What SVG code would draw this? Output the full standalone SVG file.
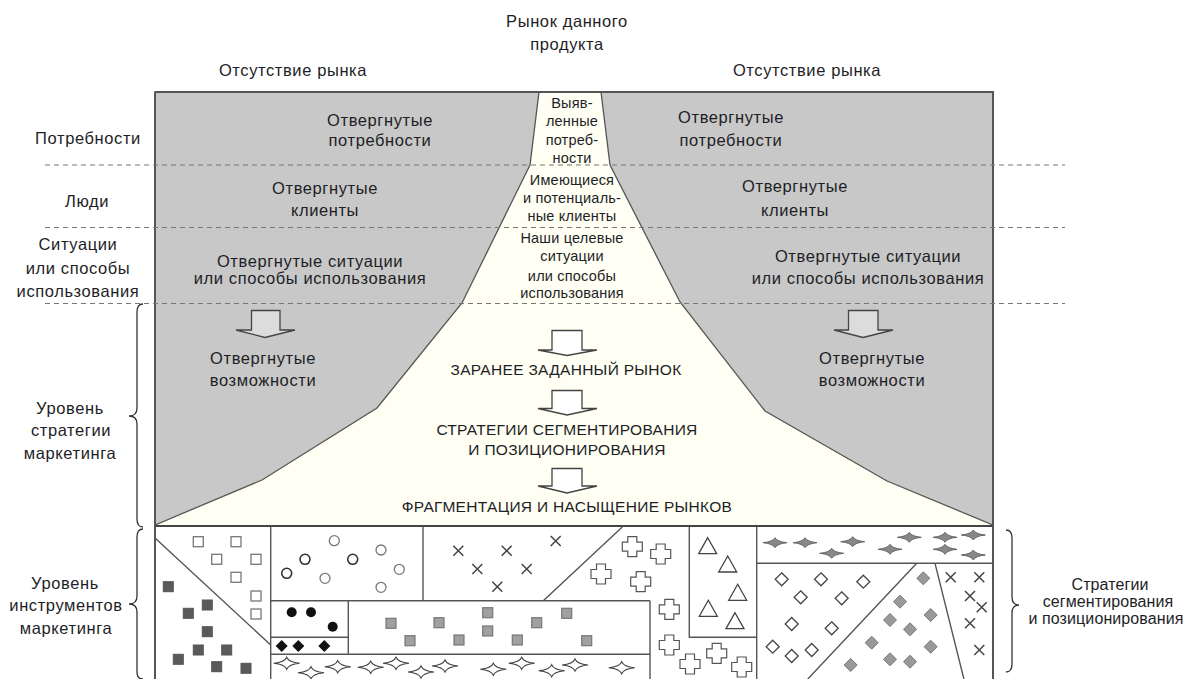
<svg xmlns="http://www.w3.org/2000/svg" xmlns:xlink="http://www.w3.org/1999/xlink" width="1190" height="679" viewBox="0 0 1190 679">
<style>
text{font-family:"Liberation Sans",Arial,sans-serif;fill:#1e1e26;text-anchor:middle}
.lb{font-size:16.5px;letter-spacing:0.6px}
.rl{font-size:16px;letter-spacing:0.1px}
.sm{font-size:14.5px;letter-spacing:0.2px}
.cp{font-size:15.5px;letter-spacing:0.3px}
.dash{stroke:#777;stroke-width:1.2;stroke-dasharray:5,4;fill:none}
.gray{fill:#c8c8c8;stroke:#555;stroke-width:1.3}
.brace{stroke:#333;stroke-width:1.3;fill:none}
.arw{stroke:#444;stroke-width:1.3}
.ln{stroke:#555;stroke-width:1.4;fill:none}
</style>
<defs>
<rect id="osq" x="-5" y="-5" width="10" height="10" fill="#fff" stroke="#777" stroke-width="1.3"/>
<rect id="dsq" x="-5" y="-5" width="10" height="10" fill="#5a5a5a" stroke="#555" stroke-width="1"/>
<rect id="gsq" x="-5" y="-5" width="10" height="10" fill="#a0a0a0" stroke="#777" stroke-width="1.2"/>
<circle id="oc1" r="5" fill="#fff" stroke="#333" stroke-width="1.6"/>
<circle id="oc2" r="5" fill="#fff" stroke="#777" stroke-width="1.3"/>
<circle id="bc" r="5" fill="#111"/>
<path id="bd" d="M0,-6 L6,0 L0,6 L-6,0 Z" fill="#111"/>
<path id="xx" d="M-5,-5 L5,5 M5,-5 L-5,5" stroke="#444" stroke-width="1.5" fill="none"/>
<path id="pl" d="M-4.5,-10 H4.5 V-4.5 H10 V4.5 H4.5 V10 H-4.5 V4.5 H-10 V-4.5 H-4.5 Z" fill="#fff" stroke="#555" stroke-width="1.2"/>
<path id="tr" d="M0,-9 L9,7 L-9,7 Z" fill="#fff" stroke="#444" stroke-width="1.3"/>
<path id="od" d="M0,-6.5 L6.5,0 L0,6.5 L-6.5,0 Z" fill="#fff" stroke="#444" stroke-width="1.3"/>
<path id="gd" d="M0,-6.5 L6.5,0 L0,6.5 L-6.5,0 Z" fill="#999" stroke="#777" stroke-width="1"/>
<path id="ws" d="M-13,0 Q-2,-1 0,-6 Q2,-1 13,0 Q2,1 0,6 Q-2,1 -13,0 Z" fill="#fff" stroke="#444" stroke-width="1.1"/>
<path id="gs" d="M-12,0 Q-2,-1 0,-5 Q2,-1 12,0 Q2,1 0,5 Q-2,1 -12,0 Z" fill="#888" stroke="#666" stroke-width="1"/>
</defs>

<rect width="1190" height="679" fill="#fff"/>

<g id="strategy-area">
<rect x="155" y="92" width="838" height="434" fill="#fffff4"/>
<path class="gray" d="M155,92 H539 L530,165 L462,303 L377,408 L262,480 L155,525 Z"/>
<path class="gray" d="M601,92 H993 V525 L887,481 L765,411 L680,302 L610,165 Z"/>
<path d="M155,92 H993 V679 M155,92 V679" stroke="#555" stroke-width="2" fill="none"/>
</g>

<g id="dashed-levels">
<line class="dash" x1="45" y1="165" x2="1065" y2="165"/>
<line class="dash" x1="45" y1="227.5" x2="1065" y2="227.5"/>
<line class="dash" x1="45" y1="303.5" x2="1065" y2="303.5"/>
</g>

<g id="top-labels">
<text class="lb" x="567" y="27">Рынок данного</text>
<text class="lb" x="567" y="50">продукта</text>
<text class="lb" x="293" y="76">Отсутствие рынка</text>
<text class="lb" x="807" y="76">Отсутствие рынка</text>
</g>

<g id="left-labels">
<text class="lb" x="88" y="144">Потребности</text>
<text class="lb" x="87" y="207">Люди</text>
<text class="lb" x="78" y="250">Ситуации</text>
<text class="lb" x="78" y="274">или способы</text>
<text class="lb" x="78" y="297">использования</text>
<text class="lb" x="70" y="414">Уровень</text>
<text class="lb" x="71" y="436">стратегии</text>
<text class="lb" x="70" y="459">маркетинга</text>
<text class="lb" x="65" y="589">Уровень</text>
<text class="lb" x="66" y="611">инструментов</text>
<text class="lb" x="66" y="634">маркетинга</text>
</g>

<g id="braces">
<path class="brace" d="M143,304 Q137,304 137,312 L137,408 Q137,416 129,416 Q137,416 137,424 L137,519 Q137,527 143,527"/>
<path class="brace" d="M143,529 Q137,529 137,537 L137,596 Q137,604 129,604 Q137,604 137,612 L137,672 Q137,679 143,679"/>
<path class="brace" d="M1006,530 Q1012,530 1012,538 L1012,597 Q1012,605 1019,605 Q1012,605 1012,613 L1012,664 Q1012,672 1006,672"/>
</g>

<g id="rejected-labels">
<text class="lb" x="380" y="126">Отвергнутые</text>
<text class="lb" x="380" y="146">потребности</text>
<text class="lb" x="731" y="123">Отвергнутые</text>
<text class="lb" x="731" y="146">потребности</text>
<text class="lb" x="325" y="194">Отвергнутые</text>
<text class="lb" x="325" y="216">клиенты</text>
<text class="lb" x="795" y="192">Отвергнутые</text>
<text class="lb" x="795" y="216">клиенты</text>
<text class="lb" x="310" y="267">Отвергнутые ситуации</text>
<text class="lb" x="310" y="284">или способы использования</text>
<text class="lb" x="868" y="262">Отвергнутые ситуации</text>
<text class="lb" x="868" y="284">или способы использования</text>
<text class="lb" x="263" y="364">Отвергнутые</text>
<text class="lb" x="263" y="386">возможности</text>
<text class="lb" x="872" y="364">Отвергнутые</text>
<text class="lb" x="872" y="386">возможности</text>
</g>

<g id="funnel-labels">
<text class="sm" x="572" y="108">Выяв-</text>
<text class="sm" x="572" y="126">ленные</text>
<text class="sm" x="572" y="145">потреб-</text>
<text class="sm" x="572" y="163">ности</text>
<text class="sm" x="572" y="185">Имеющиеся</text>
<text class="sm" x="572" y="203">и потенциаль-</text>
<text class="sm" x="572" y="221">ные клиенты</text>
<text class="sm" x="572" y="243">Наши целевые</text>
<text class="sm" x="572" y="261">ситуации</text>
<text class="sm" x="572" y="281">или способы</text>
<text class="sm" x="572" y="298">использования</text>
<text class="cp" x="566" y="375">ЗАРАНЕЕ ЗАДАННЫЙ РЫНОК</text>
<text class="cp" x="567" y="435">СТРАТЕГИИ СЕГМЕНТИРОВАНИЯ</text>
<text class="cp" x="567" y="455">И ПОЗИЦИОНИРОВАНИЯ</text>
<text class="cp" x="567" y="512">ФРАГМЕНТАЦИЯ И НАСЫЩЕНИЕ РЫНКОВ</text>
</g>

<g id="connectors">
<path class="arw" fill="#dcdcdc" d="M251.5,310.5 H280 V330 H295 L265,337.5 L236,330 H251.5 Z"/>
<path class="arw" fill="#dcdcdc" d="M848.5,310.5 H878 V330 H893 L863,337.5 L834,330 H848.5 Z"/>
<path class="arw" fill="#fff" d="M552,330.5 H582 V350 H597 L567,355.5 L538,350 H552 Z"/>
<path class="arw" fill="#fff" d="M552,390.5 H582 V408.5 H597 L567,415 L538,408.5 H552 Z"/>
<path class="arw" fill="#fff" d="M552,468.5 H582 V486 H597 L567,493 L538,486 H552 Z"/>
</g>

<g id="instruments-area">
<rect x="155" y="526" width="838" height="160" fill="#fff"/>
<path d="M155,526 H993" stroke="#444" stroke-width="2"/>
<path class="ln" d="M155,538 L270.7,645 M270.7,526 V679 M423,526 V600.7 M270.7,600.7 H650 M348.3,600.7 V654.3 M270.7,637.3 H348.3 M270.7,654.3 H650 M650,600.7 V679 M622.3,527 L543.3,600.7 M689.3,527 V637.3 H756.7 M756.7,527 V679 M756.7,563.3 H993 M916.7,563.3 L807.8,679 M935,563.3 L963.9,679"/>
<path d="M155,526 V679 M993,526 V679" stroke="#555" stroke-width="2"/>
</g>

<g id="instrument-symbols">
<use href="#osq" x="198.3" y="541.7"/><use href="#osq" x="236" y="541.7"/><use href="#osq" x="216.7" y="559.3"/><use href="#osq" x="256" y="559.3"/><use href="#osq" x="236" y="577.3"/><use href="#osq" x="256" y="596"/><use href="#osq" x="256" y="614"/>
<use href="#dsq" x="168.3" y="586.7"/><use href="#dsq" x="207.3" y="605"/><use href="#dsq" x="188.3" y="613.3"/><use href="#dsq" x="207.3" y="631.7"/><use href="#dsq" x="198.3" y="650"/><use href="#dsq" x="226.7" y="650"/><use href="#dsq" x="178.3" y="659.3"/><use href="#dsq" x="216.7" y="666.7"/><use href="#dsq" x="246" y="668.3"/>
<use href="#oc2" x="334.3" y="540.7"/><use href="#oc1" x="305" y="559.3"/><use href="#oc1" x="352.7" y="559.3"/><use href="#oc2" x="381" y="550"/><use href="#oc1" x="286.7" y="573.3"/><use href="#oc2" x="325" y="578.3"/><use href="#oc2" x="399.3" y="569.3"/><use href="#oc2" x="381" y="587.3"/>
<use href="#bc" x="291.7" y="612.3"/><use href="#bc" x="311" y="612.3"/><use href="#bc" x="332.7" y="626.7"/>
<use href="#bd" x="281.7" y="646"/><use href="#bd" x="298.3" y="646"/><use href="#bd" x="324.3" y="646"/>
<use href="#gsq" x="391" y="623.3"/><use href="#gsq" x="410" y="640.7"/><use href="#gsq" x="439" y="622.7"/><use href="#gsq" x="487.7" y="612.7"/><use href="#gsq" x="487.7" y="631"/><use href="#gsq" x="459" y="640"/><use href="#gsq" x="517.3" y="640"/><use href="#gsq" x="536.7" y="622.7"/><use href="#gsq" x="566.7" y="613.3"/><use href="#gsq" x="586.7" y="640.7"/>
<use href="#xx" x="458.3" y="550.7"/><use href="#xx" x="506.7" y="550.7"/><use href="#xx" x="555.7" y="541"/><use href="#xx" x="477.3" y="569"/><use href="#xx" x="526.7" y="569"/><use href="#xx" x="497.3" y="586.7"/>
<use href="#pl" x="632.3" y="546.7"/><use href="#pl" x="660.7" y="554"/><use href="#pl" x="601" y="574"/><use href="#pl" x="640.7" y="581.7"/><use href="#pl" x="669.3" y="609.3"/><use href="#pl" x="669.3" y="645"/><use href="#pl" x="690" y="664"/><use href="#pl" x="716.7" y="653.3"/><use href="#pl" x="741.7" y="667"/>
<use href="#tr" x="707.7" y="546.7"/><use href="#tr" x="727.7" y="565"/><use href="#tr" x="737.7" y="593.3"/><use href="#tr" x="708.3" y="609.3"/><use href="#tr" x="735" y="621.7"/>
<use href="#gs" x="775" y="542.7"/><use href="#gs" x="805" y="542.7"/><use href="#gs" x="831.7" y="553.3"/><use href="#gs" x="852.7" y="541.7"/><use href="#gs" x="890" y="549.3"/><use href="#gs" x="909.3" y="537.3"/><use href="#gs" x="945" y="537.3"/><use href="#gs" x="973.3" y="535"/><use href="#gs" x="945" y="549.3"/><use href="#gs" x="973.3" y="555"/>
<use href="#od" x="781.7" y="579.3"/><use href="#od" x="821" y="579.3"/><use href="#od" x="863.3" y="581.7"/><use href="#od" x="800.7" y="597.3"/><use href="#od" x="841.7" y="598.3"/><use href="#od" x="791.7" y="624"/><use href="#od" x="831.7" y="628.3"/><use href="#od" x="772.7" y="646.7"/><use href="#od" x="791.7" y="656"/><use href="#od" x="811.7" y="650"/>
<use href="#gd" x="923.3" y="578.3"/><use href="#gd" x="900" y="601.7"/><use href="#gd" x="890" y="620"/><use href="#gd" x="910" y="629.3"/><use href="#gd" x="930.7" y="615"/><use href="#gd" x="871.7" y="642.7"/><use href="#gd" x="930.7" y="646.7"/><use href="#gd" x="890" y="659.3"/><use href="#gd" x="910" y="661.7"/><use href="#gd" x="850.7" y="665"/>
<use href="#xx" x="950.7" y="577.3"/><use href="#xx" x="979.3" y="577.3"/><use href="#xx" x="970" y="596"/><use href="#xx" x="981.7" y="607.3"/><use href="#xx" x="970" y="623.3"/><use href="#xx" x="979.3" y="650"/>
<use href="#ws" x="286.7" y="663.3"/><use href="#ws" x="311" y="672.7"/><use href="#ws" x="337.7" y="666.7"/><use href="#ws" x="370.7" y="667.3"/><use href="#ws" x="396" y="663.3"/><use href="#ws" x="421" y="672"/><use href="#ws" x="445" y="666"/><use href="#ws" x="493.3" y="669.3"/><use href="#ws" x="521.7" y="663.3"/><use href="#ws" x="551.7" y="670.7"/><use href="#ws" x="575" y="665"/><use href="#ws" x="621.7" y="667.7"/>
</g>

<g id="right-label">
<text class="rl" x="1110" y="590">Стратегии</text>
<text class="rl" x="1108" y="607">сегментирования</text>
<text class="rl" x="1106" y="624">и позиционирования</text>
</g>
</svg>
